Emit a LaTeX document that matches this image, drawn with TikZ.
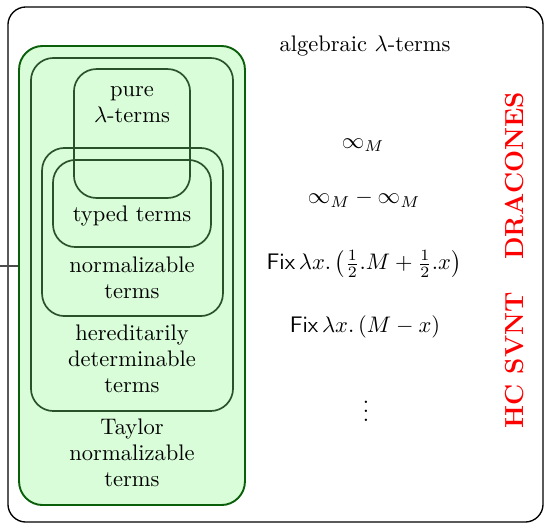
\documentclass[tikz,border=0pt]{standalone}
\usepackage{amsmath}
\definecolor{setedge}{RGB}{42,82,42}
\definecolor{tayedge}{RGB}{10,95,10}
\definecolor{tayfill}{RGB}{217,253,217}
\begin{document}
\begin{tikzpicture}[x=0.4444pt,y=-0.4444pt,
  setbox/.style={draw=setedge, line width=0.75pt, rounded corners=10pt, inner sep=0pt, fill=none},
  greenbox/.style={draw=tayedge, line width=0.85pt, fill=tayfill, rounded corners=10.5pt, inner sep=0pt},
  outerbox/.style={draw=black, line width=0.6pt, rounded corners=8pt, inner sep=0pt},
  lbl/.style={align=center, inner sep=0pt, font=\fontsize{10}{11.5}\selectfont},
  dragon/.style={text=red, font=\fontsize{11.6}{13}\selectfont\bfseries, rotate=90, inner sep=0pt}]
\useasboundingbox (0,0) rectangle (545,525);
\node[outerbox, minimum width=237.8pt, minimum height=228.9pt] (outer) at (275.5,264.5) {};
\node[greenbox, minimum width=100.4pt, minimum height=204pt] (tay) at (132,275.5) {};
\node[setbox, minimum width=89.8pt, minimum height=156.9pt] (her) at (132,234.5) {};
\node[setbox, minimum width=80.4pt, minimum height=74.7pt] (nor) at (132.5,232) {};
\node[setbox, minimum width=51.6pt, minimum height=57.3pt] (pur) at (132,133.5) {};
\node[setbox, minimum width=70.2pt, minimum height=38.7pt] (typ) at (132,203.5) {};
\coordinate (lft) at (0,266);
\draw[line width=0.5pt, black!70] (lft) -- (lft -| tay.west);
\node[lbl] (tpur) at (132,105) {pure\\$\lambda$-terms};
\node[lbl] (ttyp) at (132,216) {typed terms};
\node[lbl] (tnor) at (132,278) {normalizable\\terms};
\node[lbl] (ther) at (132,359) {hereditarily\\determinable\\terms};
\node[lbl] (ttay) at (132,453) {Taylor\\normalizable\\terms};
\node[lbl] (talg) at (365,46) {algebraic $\lambda$-terms};
\node[lbl] (e1) at (363,145) {$\infty_M$};
\node[lbl] (e2) at (364,199) {$\infty_M-\infty_M$};
\node[lbl] (e3) at (364,264) {$\mathsf{Fix}\,\lambda x.\,\bigl(\tfrac12.M+\tfrac12.x\bigr)$};
\node[lbl] (e4) at (365,327) {$\mathsf{Fix}\,\lambda x.\,(M-x)$};
\node[lbl] (e5) at (366,405) {$\vdots$};
\node[dragon] (hc) at (515,260) {HC SVNT\hspace{14.5pt}DRACONES};
\end{tikzpicture}
\end{document}
